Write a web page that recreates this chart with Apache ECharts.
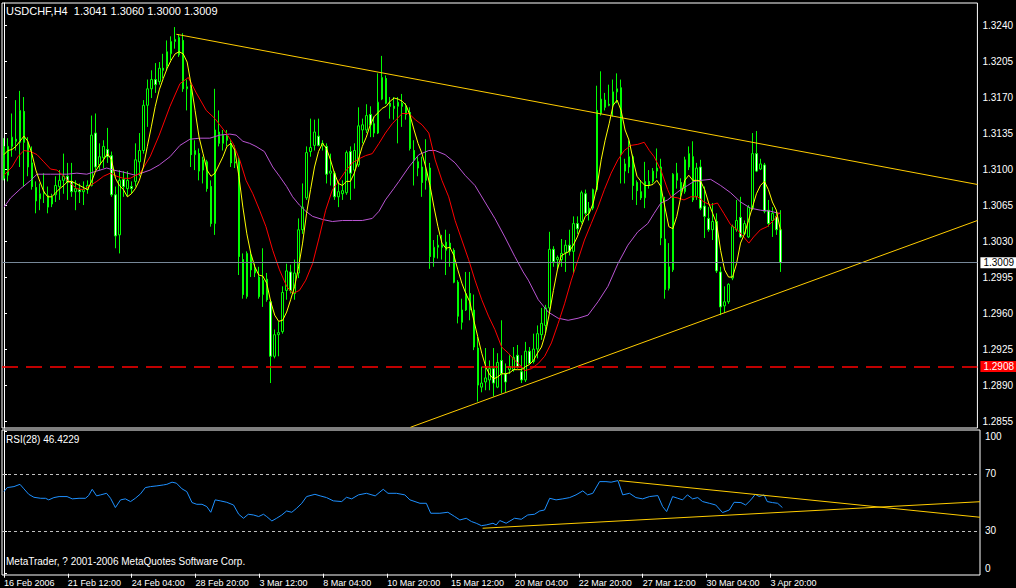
<!DOCTYPE html>
<html><head><meta charset="utf-8">
<script src="https://cdn.jsdelivr.net/npm/echarts@6/dist/echarts.min.js"></script>
<style>html,body{margin:0;padding:0;background:#000;overflow:hidden}#c{width:1016px;height:588px}</style>
</head><body><div id="c"></div>
<script>
// ---------------- data ----------------
const symbolName = 'USDCHF,H4';
const copyright = 'MetaTrader, ? 2001-2006 MetaQuotes Software Corp.';
const rsiName = 'RSI(28)';
const tickLabels = ['16 Feb 2006','21 Feb 12:00','24 Feb 04:00','28 Feb 20:00','3 Mar 12:00','8 Mar 04:00','10 Mar 20:00','15 Mar 12:00','20 Mar 04:00','22 Mar 20:00','27 Mar 12:00','30 Mar 04:00','3 Apr 20:00'];
const barsPerTick = 16;
const slotCount = 245; // chart width in bar slots (empty space to the right)
const priceTicks = [1.2855,1.2890,1.2925,1.2960,1.2995,1.3030,1.3065,1.3100,1.3135,1.3170,1.3205,1.3240];
const rsiTicks = [0,30,70,100];
const rsiLevels = [30,70];
const alertLevel = 1.2908;

// [open, close, low, high]
const ohlc = [
[1.3122,1.3091,1.3089,1.3130],[1.3094,1.3122,1.3088,1.3130],[1.3122,1.3131,1.3112,1.3154],[1.3129,1.3127,1.3118,1.3167],[1.3126,1.3157,1.3102,1.3176],
[1.3156,1.3126,1.3083,1.3170],[1.3125,1.3102,1.3093,1.3131],[1.3106,1.3083,1.3080,1.3122],[1.3082,1.3069,1.3057,1.3088],[1.3071,1.3076,1.3060,1.3086],
[1.3076,1.3078,1.3067,1.3096],[1.3074,1.3063,1.3057,1.3083],[1.3066,1.3073,1.3063,1.3076],[1.3075,1.3084,1.3068,1.3093],[1.3083,1.3089,1.3070,1.3099],
[1.3089,1.3093,1.3076,1.3115],[1.3093,1.3087,1.3070,1.3106],[1.3088,1.3078,1.3073,1.3106],[1.3078,1.3081,1.3060,1.3089],[1.3080,1.3078,1.3067,1.3086],
[1.3078,1.3080,1.3065,1.3088],[1.3080,1.3084,1.3076,1.3089],[1.3084,1.3133,1.3083,1.3152],[1.3135,1.3102,1.3099,1.3154],[1.3104,1.3112,1.3099,1.3125],
[1.3111,1.3122,1.3101,1.3128],[1.3119,1.3112,1.3106,1.3140],[1.3113,1.3075,1.3073,1.3117],[1.3075,1.3035,1.3023,1.3083],[1.3036,1.3089,1.3018,1.3099],
[1.3090,1.3083,1.3073,1.3098],[1.3081,1.3089,1.3073,1.3098],[1.3083,1.3081,1.3076,1.3088],[1.3088,1.3109,1.3083,1.3125],[1.3107,1.3118,1.3093,1.3135],
[1.3118,1.3162,1.3115,1.3167],[1.3162,1.3178,1.3141,1.3187],[1.3178,1.3187,1.3169,1.3196],[1.3187,1.3182,1.3174,1.3203],[1.3185,1.3198,1.3182,1.3204],
[1.3198,1.3196,1.3188,1.3212],[1.3200,1.3214,1.3196,1.3225],[1.3212,1.3224,1.3206,1.3229],[1.3224,1.3226,1.3217,1.3238],[1.3211,1.3228,1.3209,1.3231],
[1.3225,1.3178,1.3175,1.3232],[1.3178,1.3180,1.3157,1.3187],[1.3178,1.3114,1.3102,1.3182],[1.3114,1.3118,1.3099,1.3128],[1.3115,1.3098,1.3089,1.3120],
[1.3099,1.3109,1.3086,1.3112],[1.3107,1.3081,1.3078,1.3109],[1.3083,1.3047,1.3044,1.3089],[1.3047,1.3138,1.3036,1.3178],[1.3136,1.3125,1.3122,1.3157],
[1.3125,1.3133,1.3118,1.3138],[1.3132,1.3128,1.3122,1.3138],[1.3125,1.3106,1.3102,1.3128],[1.3106,1.3107,1.3101,1.3123],[1.3109,1.3015,1.2997,1.3112],
[1.3012,1.2978,1.2974,1.3018],[1.2976,1.3018,1.2974,1.3020],[1.3015,1.3002,1.2995,1.3020],[1.3003,1.2999,1.2995,1.3008],[1.2995,1.2976,1.2974,1.3005],
[1.2978,1.2992,1.2966,1.3023],[1.2993,1.2973,1.2971,1.2999],[1.2971,1.2918,1.2892,1.2973],[1.2918,1.2939,1.2916,1.2944],[1.2939,1.2941,1.2918,1.2952],
[1.2942,1.2980,1.2940,1.2986],[1.2982,1.3001,1.2973,1.3008],[1.3000,1.2982,1.2979,1.3007],[1.2979,1.2999,1.2973,1.3012],[1.2999,1.3041,1.2994,1.3052],
[1.3041,1.3063,1.3037,1.3086],[1.3072,1.3116,1.3070,1.3122],[1.3117,1.3121,1.3112,1.3149],[1.3123,1.3136,1.3118,1.3148],[1.3132,1.3123,1.3122,1.3149],
[1.3123,1.3125,1.3118,1.3128],[1.3122,1.3095,1.3086,1.3125],[1.3096,1.3098,1.3084,1.3115],[1.3096,1.3073,1.3070,1.3098],[1.3073,1.3078,1.3063,1.3088],
[1.3076,1.3079,1.3070,1.3089],[1.3077,1.3116,1.3075,1.3118],[1.3117,1.3096,1.3070,1.3122],[1.3099,1.3118,1.3081,1.3125],[1.3104,1.3142,1.3102,1.3160],
[1.3138,1.3143,1.3125,1.3149],[1.3138,1.3152,1.3135,1.3163],[1.3153,1.3143,1.3131,1.3161],[1.3144,1.3135,1.3131,1.3151],[1.3135,1.3165,1.3134,1.3193],
[1.3168,1.3189,1.3167,1.3210],[1.3188,1.3164,1.3163,1.3191],[1.3164,1.3161,1.3149,1.3170],[1.3161,1.3159,1.3148,1.3170],[1.3161,1.3165,1.3125,1.3170],
[1.3164,1.3161,1.3141,1.3173],[1.3160,1.3153,1.3148,1.3164],[1.3155,1.3120,1.3118,1.3160],[1.3118,1.3109,1.3084,1.3128],[1.3107,1.3101,1.3093,1.3112],
[1.3102,1.3087,1.3073,1.3112],[1.3089,1.3098,1.3080,1.3129],[1.3101,1.3015,1.3003,1.3106],[1.3014,1.3024,1.3005,1.3031],[1.3024,1.3026,1.3013,1.3036],
[1.3026,1.3024,1.3012,1.3036],[1.3021,1.3029,1.2997,1.3041],[1.3028,1.3023,1.3005,1.3037],[1.3021,1.2990,1.2989,1.3023],[1.2990,1.2957,1.2950,1.2992],
[1.2951,1.2963,1.2944,1.2974],[1.2963,1.2979,1.2962,1.3000],[1.2979,1.2963,1.2953,1.3000],[1.2963,1.2927,1.2924,1.2978],[1.2926,1.2890,1.2874,1.2937],
[1.2888,1.2892,1.2883,1.2908],[1.2893,1.2897,1.2885,1.2926],[1.2895,1.2906,1.2885,1.2914],[1.2906,1.2892,1.2879,1.2926],[1.2888,1.2912,1.2887,1.2921],
[1.2914,1.2901,1.2882,1.2953],[1.2901,1.2893,1.2883,1.2911],[1.2905,1.2908,1.2901,1.2919],[1.2905,1.2917,1.2903,1.2927],[1.2919,1.2908,1.2906,1.2929],
[1.2903,1.2895,1.2892,1.2919],[1.2895,1.2923,1.2893,1.2932],[1.2923,1.2911,1.2910,1.2927],[1.2913,1.2925,1.2911,1.2940],[1.2925,1.2940,1.2916,1.2948],
[1.2939,1.2950,1.2934,1.2965],[1.2948,1.2965,1.2940,1.2968],[1.2965,1.3022,1.2962,1.3039],[1.3022,1.3010,1.3005,1.3025],[1.3012,1.3014,1.3002,1.3016],
[1.3012,1.3018,1.3005,1.3032],[1.3019,1.3026,1.3000,1.3031],[1.3026,1.3020,1.3016,1.3041],[1.3020,1.3047,1.2999,1.3054],[1.3047,1.3042,1.3037,1.3054],
[1.3049,1.3077,1.3047,1.3079],[1.3076,1.3057,1.3055,1.3080],[1.3057,1.3062,1.3050,1.3068],[1.3062,1.3080,1.3060,1.3081],[1.3080,1.3157,1.3078,1.3181],
[1.3154,1.3168,1.3152,1.3195],[1.3167,1.3160,1.3157,1.3174],[1.3163,1.3162,1.3161,1.3182],[1.3162,1.3175,1.3151,1.3187],[1.3175,1.3178,1.3164,1.3193],
[1.3179,1.3115,1.3086,1.3187],[1.3098,1.3105,1.3086,1.3110],[1.3102,1.3112,1.3096,1.3128],[1.3112,1.3084,1.3070,1.3114],[1.3087,1.3079,1.3065,1.3089],
[1.3078,1.3072,1.3070,1.3089],[1.3072,1.3088,1.3062,1.3107],[1.3088,1.3084,1.3081,1.3099],[1.3088,1.3098,1.3086,1.3101],[1.3098,1.3101,1.3091,1.3120],
[1.3102,1.3033,1.3026,1.3110],[1.3032,1.2983,1.2974,1.3073],[1.2984,1.3005,1.2982,1.3028],[1.3002,1.3095,1.3000,1.3096],[1.3089,1.3096,1.3081,1.3106],
[1.3087,1.3078,1.3073,1.3091],[1.3078,1.3109,1.3076,1.3112],[1.3102,1.3115,1.3099,1.3122],[1.3112,1.3070,1.3068,1.3127],[1.3073,1.3101,1.3070,1.3106],
[1.3102,1.3062,1.3060,1.3109],[1.3064,1.3054,1.3033,1.3083],[1.3052,1.3041,1.3039,1.3063],[1.3041,1.3049,1.3031,1.3067],[1.3049,1.3001,1.2999,1.3057],
[1.3000,1.2966,1.2958,1.3005],[1.2967,1.2971,1.2960,1.2986],[1.2971,1.2988,1.2969,1.2989],[1.2994,1.3044,1.2992,1.3046],[1.3041,1.3050,1.3039,1.3070],
[1.3053,1.3034,1.3033,1.3073],[1.3037,1.3047,1.3036,1.3050],[1.3034,1.3063,1.3033,1.3065],[1.3062,1.3115,1.3060,1.3135],[1.3115,1.3098,1.3097,1.3137],
[1.3100,1.3105,1.3099,1.3110],[1.3104,1.3059,1.3057,1.3106],[1.3060,1.3047,1.3044,1.3070],[1.3050,1.3057,1.3034,1.3063],[1.3054,1.3041,1.3036,1.3060],
[1.3041,1.3009,1.3000,1.3060]
];

// fast moving average (yellow), one value per bar
const maFast = [
1.3114,1.3118,1.3119,1.3122,1.3127,1.3132,1.3127,1.3115,1.3099,1.3088,
1.3078,1.3073,1.3073,1.3077,1.3081,1.3084,1.3088,1.3088,1.3086,1.3084,
1.3082,1.3080,1.3088,1.3098,1.3104,1.3109,1.3115,1.3109,1.3091,1.3084,
1.3080,1.3073,1.3076,1.3081,1.3089,1.3102,1.3122,1.3141,1.3161,1.3177,
1.3188,1.3198,1.3206,1.3212,1.3214,1.3212,1.3204,1.3182,1.3157,1.3131,
1.3115,1.3099,1.3093,1.3096,1.3104,1.3112,1.3122,1.3125,1.3118,1.3093,
1.3063,1.3037,1.3018,1.3005,1.2997,1.2996,1.2989,1.2971,1.2958,1.2952,
1.2953,1.2961,1.2973,1.2986,1.3005,1.3028,1.3057,1.3080,1.3102,1.3117,
1.3125,1.3120,1.3109,1.3096,1.3086,1.3084,1.3088,1.3088,1.3096,1.3109,
1.3122,1.3131,1.3143,1.3151,1.3155,1.3159,1.3161,1.3166,1.3169,1.3168,
1.3166,1.3162,1.3152,1.3138,1.3125,1.3115,1.3101,1.3084,1.3063,1.3044,
1.3028,1.3023,1.3024,1.3016,1.3002,1.2989,1.2979,1.2971,1.2953,1.2937,
1.2921,1.2908,1.2900,1.2896,1.2898,1.2901,1.2901,1.2902,1.2905,1.2905,
1.2905,1.2908,1.2910,1.2914,1.2921,1.2927,1.2940,1.2960,1.2982,1.3002,
1.3016,1.3018,1.3020,1.3026,1.3034,1.3044,1.3054,1.3057,1.3067,1.3084,
1.3109,1.3128,1.3144,1.3162,1.3167,1.3157,1.3138,1.3128,1.3109,1.3093,
1.3088,1.3084,1.3084,1.3085,1.3089,1.3083,1.3063,1.3044,1.3042,1.3054,
1.3073,1.3089,1.3094,1.3089,1.3089,1.3088,1.3080,1.3067,1.3057,1.3047,
1.3021,1.3002,1.2995,1.2995,1.3008,1.3028,1.3037,1.3050,1.3063,1.3076,
1.3084,1.3088,1.3080,1.3068,1.3060,1.3041
];

// medium moving average (red), [bar position, price]
const maMid = [
[0,1.3094],[2,1.3102],[3.5,1.3112],[5,1.3118],[6.7,1.3117],[8.3,1.3114],[10,1.3107],[11.7,1.3100],[13.3,1.3099],[15,1.3093],
[16.7,1.3086],[18.3,1.3081],[20,1.3080],[21.7,1.3084],[23.3,1.3088],[25,1.3093],[26.7,1.3096],[28.3,1.3093],[30,1.3091],[31.7,1.3091],
[34.2,1.3096],[36.7,1.3112],[39,1.3133],[41.7,1.3161],[44.2,1.3183],[46.3,1.3189],[48.3,1.3174],[50.8,1.3157],[53,1.3149],[55.8,1.3135],
[57.5,1.3125],[59.2,1.3109],[60.8,1.3089],[62.5,1.3076],[64.2,1.3060],[65.8,1.3044],[67.5,1.3021],[69.2,1.3002],[71,1.2986],[72.5,1.2979],
[74.2,1.2982],[75.8,1.2992],[77.5,1.3008],[79.2,1.3034],[80.8,1.3060],[82.5,1.3080],[84.2,1.3089],[85.8,1.3098],[87.5,1.3106],[89.2,1.3110],
[90.8,1.3113],[92.5,1.3115],[94.2,1.3125],[95.8,1.3135],[97.5,1.3144],[100,1.3154],[101.7,1.3154],[103.3,1.3148],[105,1.3143],[106.7,1.3135],
[108.3,1.3109],[110,1.3089],[111.7,1.3073],[113.3,1.3050],[115,1.3031],[116.7,1.3012],[118.3,1.2992],[120,1.2973],[121.7,1.2957],[123.3,1.2944],
[125,1.2927],[126.7,1.2921],[128.3,1.2914],[130,1.2908],[130.8,1.2904],[132.5,1.2906],[134.2,1.2911],[135.8,1.2918],[137.5,1.2931],[139.2,1.2950],
[140.8,1.2969],[142.5,1.2992],[144.2,1.3012],[145.8,1.3031],[147.5,1.3047],[149.2,1.3063],[150.8,1.3080],[152.5,1.3096],[154.2,1.3109],[155.8,1.3118],
[157.5,1.3123],[159.2,1.3124],[160.8,1.3126],[162.1,1.3118],[163.3,1.3112],[165,1.3099],[166.7,1.3080],[167.5,1.3073],[169.2,1.3072],[170.8,1.3070],
[172.5,1.3073],[174.2,1.3073],[175.8,1.3068],[177.5,1.3065],[179.2,1.3067],[180.8,1.3057],[182.5,1.3046],[184.2,1.3041],[185.8,1.3034],[187.1,1.3028],
[188.3,1.3034],[190,1.3041],[191.7,1.3044],[193.3,1.3050],[194.6,1.3057],[195,1.3057]
];

// slow moving average (purple), [bar position, price]
const maSlow = [
[0,1.3063],[1.7,1.3072],[4.2,1.3081],[6.7,1.3089],[8.3,1.3095],[11.7,1.3095],[15.8,1.3095],[18.3,1.3096],[20.8,1.3095],[23.3,1.3098],
[25.8,1.3101],[27.5,1.3099],[30,1.3097],[33,1.3094],[36.7,1.3099],[39,1.3104],[41.7,1.3112],[44.2,1.3123],[46.7,1.3129],[49.2,1.3130],
[51.7,1.3130],[54.2,1.3133],[56.7,1.3134],[58.3,1.3133],[60,1.3127],[61.7,1.3125],[63.3,1.3122],[65.4,1.3117],[67.5,1.3102],[69.2,1.3093],
[71,1.3083],[72.5,1.3073],[74.2,1.3065],[75.8,1.3059],[77.5,1.3054],[80,1.3051],[82.5,1.3049],[85,1.3050],[87.5,1.3050],[90,1.3050],
[92.5,1.3052],[94.2,1.3059],[95.8,1.3070],[97.9,1.3081],[99.2,1.3088],[101.7,1.3102],[104.2,1.3114],[106.7,1.3118],[108.3,1.3118],[110.8,1.3114],
[113.3,1.3106],[115.8,1.3094],[118.3,1.3084],[120.8,1.3068],[123.3,1.3052],[125.8,1.3034],[128.3,1.3015],[130.4,1.3000],[131.7,1.2992],[134.2,1.2973],
[136.7,1.2961],[139.2,1.2955],[141.7,1.2953],[144.2,1.2955],[146.7,1.2958],[149.2,1.2971],[151.7,1.2986],[154.2,1.3008],[156.7,1.3026],[159.2,1.3039],
[161.7,1.3047],[163.3,1.3057],[165,1.3067],[166.7,1.3070],[168.3,1.3075],[170,1.3080],[171.7,1.3084],[173.3,1.3088],[175,1.3089],[177.5,1.3090],
[180,1.3084],[182.5,1.3077],[185,1.3068],[187.5,1.3062],[190,1.3060],[192.5,1.3059],[194.6,1.3057],[195,1.3057]
];

// RSI(28), [bar position, value]
const rsi = [
[0,57.6],[0.8,60.4],[2.5,61.1],[4,62.7],[5,59.5],[6.2,55.7],[7.5,53.6],[9.2,52.9],[10.4,52.9],[11.2,51.8],
[12.5,53.4],[13.8,54.1],[15.8,54.1],[17.1,52.5],[18.8,52.9],[20.4,52.9],[21.2,54.8],[22.1,59.2],[23.2,54.6],[24.2,55.3],
[25.7,56.4],[26.7,52.9],[27.9,46.4],[29.2,51.8],[30.4,52.5],[31.7,50.6],[32.9,52.9],[34.2,56.0],[35.4,60.4],[36.7,61.1],
[38.3,61.6],[40,62.3],[40.8,62.7],[42.1,64.2],[43.2,63.5],[44.6,59.5],[45.8,57.6],[47.1,49.9],[48.3,48.7],[49.6,48.7],
[50.8,47.1],[51.8,43.1],[52.9,51.8],[54.2,51.1],[55.8,50.1],[57.5,48.2],[58.8,41.7],[60,38.9],[61.2,41.7],[62.5,41.2],
[63.8,40.1],[65,41.7],[65.8,40.1],[67.1,37.0],[68.3,38.9],[69.6,41.2],[70.8,44.0],[72.1,43.1],[73.3,45.9],[74.6,49.4],
[75.8,54.1],[77.9,55.7],[79.2,54.6],[80.8,53.4],[82.5,51.1],[84.6,50.6],[85.8,53.6],[87.1,52.5],[88.8,55.3],[90.8,56.4],
[93,54.6],[95,59.2],[96.2,56.4],[98.3,56.4],[100.4,55.3],[101.7,51.8],[104.2,49.4],[105.8,49.4],[106.9,42.4],[109.2,42.4],
[111.2,43.1],[112.9,40.1],[114.2,37.7],[115.8,38.9],[117.1,36.6],[118.3,35.4],[119.6,33.7],[120.8,34.2],[122.5,35.4],[123.3,34.2],
[124.2,37.3],[125.8,35.4],[127.9,38.9],[129.6,38.2],[131.2,41.2],[132.9,41.7],[134.2,44.0],[135.4,44.7],[136.7,52.9],[138.3,51.8],
[140,52.5],[141.7,53.4],[143.3,55.3],[145,58.1],[146.2,55.3],[147.5,56.4],[149.2,64.6],[150.8,64.6],[152.1,64.2],[153.8,65.3],
[155,55.3],[156.7,56.4],[158.3,53.4],[160,52.5],[161.7,54.1],[163.8,54.8],[165,47.1],[166,43.6],[167.5,54.1],[168.8,52.9],
[170,51.8],[171.2,55.3],[172.5,52.5],[173.8,53.4],[175,50.6],[176.7,49.4],[178.3,48.2],[180,42.9],[181.7,44.7],[182.9,50.1],
[184.6,49.9],[185.8,48.2],[187.1,51.8],[188.2,55.7],[189.2,54.1],[190.4,55.3],[191.2,50.6],[192.5,49.9],[193.8,49.4],[195,46.4229]
];

// hand-drawn trend lines, [bar position, value]
const priceUpperTrend = [[43.3,1.3231],[244.5,1.3085]];
const priceLowerTrend = [[102.1,1.2849],[244.5,1.3050]];
const rsiUpperTrend = [[154.1,65.3],[244.5,39.6]];
const rsiLowerTrend = [[119.9,31.9],[244.5,50.5]];

// ---------------- chart ----------------
const FONT = 'Liberation Sans, Arial, sans-serif';
const WHITE = '#ffffff';
const categories = [];
for (let i = 0; i < slotCount; i++) {
  categories.push(i % barsPerTick === 0 && (i / barsPerTick) < tickLabels.length ? tickLabels[i / barsPerTick] : '');
}
const showTick = (idx) => idx % barsPerTick === 0 && (idx / barsPerTick) < tickLabels.length;
const last = ohlc[ohlc.length - 1];
const lastClose = last[1];
const titleText = symbolName + '  ' + [last[0], last[3], last[2], last[1]].map(v => v.toFixed(4)).join(' ');
const rsiText = rsiName + ' ' + rsi[rsi.length - 1][1].toFixed(4);

const chart = echarts.init(document.getElementById('c'), null, { renderer: 'svg' });
chart.setOption({
  backgroundColor: '#000000',
  animation: false,
  grid: [
    { left: 2, top: 3, width: 978, height: 425, show: true, borderColor: WHITE, borderWidth: 1, backgroundColor: '#000' },
    { left: 2, top: 430, width: 978, height: 145, show: true, borderColor: WHITE, borderWidth: 1, backgroundColor: '#000' }
  ],
  xAxis: [
    { type: 'category', gridIndex: 0, data: categories, boundaryGap: true, show: false },
    { type: 'value', gridIndex: 0, min: -0.5, max: slotCount - 0.5, show: false },
    { type: 'category', gridIndex: 1, data: categories, boundaryGap: true, position: 'bottom',
      axisLine: { show: false },
      axisTick: { show: true, alignWithLabel: true, interval: showTick, length: 4, lineStyle: { color: WHITE } },
      axisLabel: { show: true, interval: showTick, align: 'left', color: WHITE, fontSize: 9, fontFamily: FONT, margin: 3 },
      splitLine: { show: false } },
    { type: 'value', gridIndex: 1, min: -0.5, max: slotCount - 0.5, show: false }
  ],
  yAxis: [
    { type: 'value', gridIndex: 0, position: 'right', min: 1.28483, max: 1.32614,
      splitLine: { show: false },
      axisLine: { show: true, lineStyle: { color: WHITE } },
      axisTick: { show: true, customValues: priceTicks, length: 3, lineStyle: { color: WHITE } },
      axisLabel: { customValues: priceTicks, formatter: v => Number(v).toFixed(4), color: WHITE, fontSize: 10, fontFamily: FONT, margin: 5 } },
    { type: 'value', gridIndex: 1, position: 'right', min: -0.9, max: 100.8,
      splitLine: { show: false },
      axisLine: { show: true, lineStyle: { color: WHITE } },
      axisTick: { show: true, customValues: rsiTicks, length: 3, lineStyle: { color: WHITE } },
      axisLabel: { customValues: rsiTicks, color: WHITE, fontSize: 10, fontFamily: FONT, margin: 5,
        formatter: v => v >= 100 ? '{t|' + v + '}' : (v <= 0 ? '{b|' + v + '}' : String(v)),
        rich: { t: { padding: [11, 0, 0, 0], color: WHITE, fontSize: 10, fontFamily: FONT },
                b: { padding: [0, 0, 11, 0], color: WHITE, fontSize: 10, fontFamily: FONT } } } }
  ],
  series: [
    { type: 'candlestick', xAxisIndex: 0, yAxisIndex: 0, data: ohlc, barWidth: 2, z: 2,
      itemStyle: { color: '#000000', color0: '#ffffff', borderColor: '#00ff00', borderColor0: '#00ff00', borderWidth: 1 },
      markLine: { silent: true, symbol: ['none', 'none'], animation: false, precision: 4,
        data: [
          { yAxis: lastClose, lineStyle: { color: '#778899', type: 'solid', width: 1 },
            label: { show: true, position: 'end', distance: 3, formatter: () => lastClose.toFixed(4), backgroundColor: '#ffffff', color: '#000000', padding: [1, 3, 0, 3], fontSize: 10, fontFamily: FONT } },
          { yAxis: alertLevel, lineStyle: { color: '#ff0000', type: [16, 8], width: 1.5 },
            label: { show: true, position: 'end', distance: 3, formatter: () => alertLevel.toFixed(4), backgroundColor: '#ff0000', color: '#ffffff', padding: [1, 3, 0, 3], fontSize: 10, fontFamily: FONT } }
        ] } },
    { type: 'line', xAxisIndex: 1, yAxisIndex: 0, data: maSlow, symbol: 'none', z: 3, lineStyle: { color: '#ba55d3', width: 1 } },
    { type: 'line', xAxisIndex: 1, yAxisIndex: 0, data: maMid, symbol: 'none', z: 3, lineStyle: { color: '#ff0000', width: 1 } },
    { type: 'line', xAxisIndex: 0, yAxisIndex: 0, data: maFast, symbol: 'none', z: 4, lineStyle: { color: '#ffff00', width: 1 } },
    { type: 'line', xAxisIndex: 1, yAxisIndex: 0, data: priceUpperTrend, symbol: 'none', z: 4, clip: true, lineStyle: { color: '#ffcc00', width: 1 } },
    { type: 'line', xAxisIndex: 1, yAxisIndex: 0, data: priceLowerTrend, symbol: 'none', z: 4, clip: true, lineStyle: { color: '#ffcc00', width: 1 } },
    { type: 'line', xAxisIndex: 3, yAxisIndex: 1, data: rsi, symbol: 'none', z: 3, lineStyle: { color: '#1e90ff', width: 1 },
      markLine: { silent: true, symbol: ['none', 'none'], label: { show: false },
        lineStyle: { color: '#c0c0c0', type: [3, 3], width: 1 },
        data: rsiLevels.map(v => ({ yAxis: v })) } },
    { type: 'line', xAxisIndex: 3, yAxisIndex: 1, data: rsiUpperTrend, symbol: 'none', z: 4, lineStyle: { color: '#ffcc00', width: 1 } },
    { type: 'line', xAxisIndex: 3, yAxisIndex: 1, data: rsiLowerTrend, symbol: 'none', z: 4, lineStyle: { color: '#ffcc00', width: 1 } }
  ],
  graphic: [
    { type: 'text', left: 6, top: 5, z: 10, style: { text: titleText, fill: WHITE, font: '11px ' + FONT } },
    { type: 'text', left: 6, top: 434, z: 10, style: { text: rsiText, fill: WHITE, font: '10px ' + FONT } },
    { type: 'text', left: 6, top: 556, z: 10, style: { text: copyright, fill: WHITE, font: '10px ' + FONT } }
  ]
});
</script>
</body></html>
